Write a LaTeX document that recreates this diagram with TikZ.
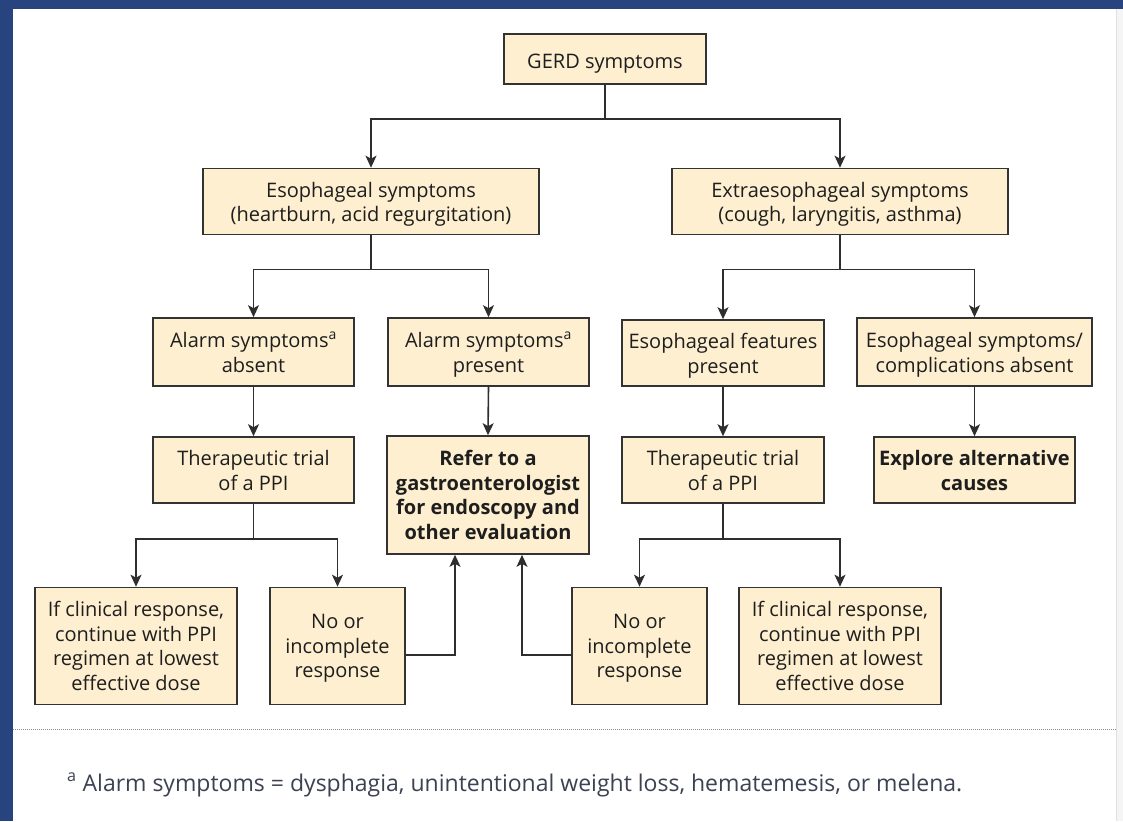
\documentclass[tikz,border=0pt]{standalone}
\usepackage{fontspec}
\setmainfont{Open Sans}
\usetikzlibrary{arrows.meta}
\definecolor{frame}{HTML}{27447F}
\definecolor{boxfill}{HTML}{FDEFD0}
\definecolor{boxline}{HTML}{333333}
\definecolor{linkcol}{HTML}{2E2E2E}
\definecolor{boxtext}{HTML}{1E1E1E}
\definecolor{notecol}{HTML}{3C4252}
\tikzset{
  box/.style={draw=boxline, line width=1.6pt, fill=boxfill, inner sep=0pt,
    align=center, font=\fontsize{20}{24.5}\selectfont, text=boxtext, text depth=5pt},
  boldbox/.style={box, font=\fontsize{20}{24.5}\selectfont\bfseries},
  % fixed text box heights, so every box sets its lines on the same grid
  oneline/.style={text height=25pt},
  twolines/.style={text height=45pt},
  threelines/.style={text height=68pt},
  fourlines/.style={text height=93pt},
  link/.style={draw=linkcol, line width=1.6pt},
  arr/.style={link, -{Stealth[length=12pt,width=11pt,inset=3pt]}},
}
\newcommand{\supa}{\textsuperscript{a}}
\begin{document}
\begin{tikzpicture}[x=1pt,y=-1pt]
  % page background and frame
  \useasboundingbox (0,0) rectangle (1123,821);
  \fill[white] (0,0) rectangle (1123,821);
  \fill[frame] (0,0) rectangle (1123,9);
  \fill[frame] (0,0) rectangle (13,821);
  \fill[black!4] (1116,9) rectangle (1123,821);
  \draw[black!12, line width=1pt] (1116.5,9) -- (1116.5,821);

  % boxes
  \node[box, oneline, minimum width=202pt, minimum height=50pt]  (gerd)  at (605,59)  {GERD symptoms};
  \node[box, twolines, minimum width=336pt, minimum height=66pt]  (eso)   at (371,201.5) {Esophageal symptoms\\(heartburn, acid regurgitation)};
  \node[box, twolines, minimum width=336pt, minimum height=66pt]  (extra) at (840,201.5) {Extraesophageal symptoms\\(cough, laryngitis, asthma)};

  \node[box, twolines, minimum width=201pt, minimum height=68pt]  (absent)  at (253.5,352) {Alarm symptoms\supa\\absent};
  \node[box, twolines, minimum width=201pt, minimum height=68pt]  (present) at (488.5,352) {Alarm symptoms\supa\\present};
  \node[box, twolines, minimum width=202pt, minimum height=66pt]  (feat)    at (723,353)   {Esophageal features\\present};
  \node[box, twolines, minimum width=235pt, minimum height=68pt]  (compl)   at (974.5,352) {Esophageal symptoms/\\complications absent};

  \node[box, twolines, minimum width=201pt, minimum height=66pt]  (trialL)  at (253.5,470) {Therapeutic trial\\of a PPI};
  \node[boldbox, fourlines, minimum width=202pt, minimum height=118pt] (refer) at (488,495) {Refer to a\\gastroenterologist\\for endoscopy and\\other evaluation};
  \node[box, twolines, minimum width=202pt, minimum height=66pt]  (trialR)  at (723,470)   {Therapeutic trial\\of a PPI};
  \node[boldbox, twolines, minimum width=201pt, minimum height=66pt] (explore) at (974.5,470) {Explore alternative\\causes};

  \node[box, fourlines, minimum width=202pt, minimum height=117pt] (respL) at (136,646)   {If clinical response,\\continue with PPI\\regimen at lowest\\effective dose};
  \node[box, threelines, minimum width=135pt, minimum height=117pt] (noL)   at (337.5,646) {No or\\incomplete\\response};
  \node[box, threelines, minimum width=135pt, minimum height=117pt] (noR)   at (639.5,646) {No or\\incomplete\\response};
  \node[box, fourlines, minimum width=202pt, minimum height=117pt] (respR) at (840,646)   {If clinical response,\\continue with PPI\\regimen at lowest\\effective dose};

  % connectors
  \draw[arr] (gerd.south) -- ++(0,34) -| (eso.north);
  \draw[arr] (gerd.south) -- ++(0,34) -| (extra.north);
  \draw[arr] (eso.south) -- ++(0,34) -| (absent.north);
  \draw[arr] (eso.south) -- ++(0,34) -| (present.north);
  \draw[arr] (extra.south) -- ++(0,34) -| (feat.north);
  \draw[arr] (extra.south) -- ++(0,34) -| (compl.north);
  \draw[arr] (absent.south) -- (trialL.north);
  \draw[arr] (present.south) -- (refer.north);
  \draw[arr] (feat.south) -- (trialR.north);
  \draw[arr] (compl.south) -- (explore.north);
  \draw[arr] (trialL.south) -- ++(0,35) -| (respL.north);
  \draw[arr] (trialL.south) -- ++(0,35) -| (noL.north);
  \draw[arr] (trialR.south) -- ++(0,35) -| (noR.north);
  \draw[arr] (trialR.south) -- ++(0,35) -| (respR.north);
  \draw[arr] ([yshift=-9pt]noL.east) -| ([xshift=-33pt]refer.south);
  \draw[arr] ([yshift=-9pt]noR.west) -| ([xshift=34pt]refer.south);

  % footnote
  \draw[black!45, line width=0.8pt, dash pattern=on 1pt off 1pt] (13,729) -- (1116,729);
  \node[anchor=base west, inner sep=0pt, text=notecol, font=\fontsize{23}{28}\selectfont] (note) at (67,791)
    {\textsuperscript{a} Alarm symptoms = dysphagia, unintentional weight loss, hematemesis, or melena.};
\end{tikzpicture}
\end{document}
